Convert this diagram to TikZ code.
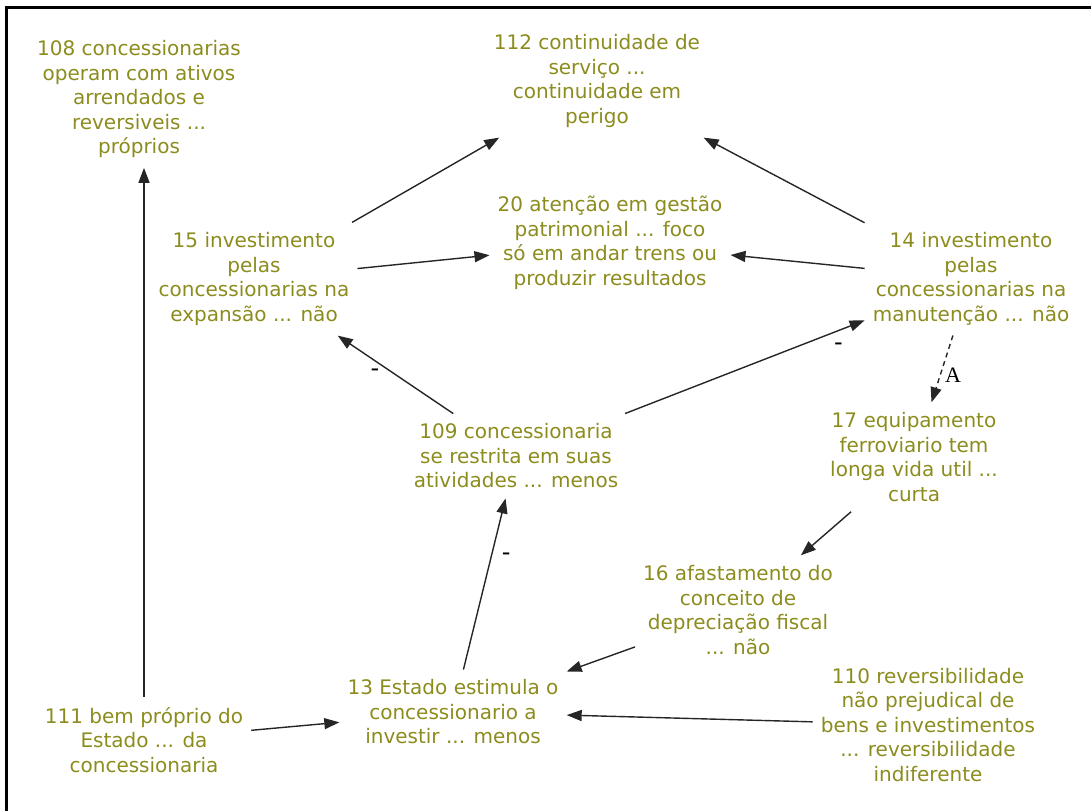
\documentclass[tikz,border=0pt]{standalone}
\usepackage{fontspec}
\setmainfont{DejaVu Sans}
\newfontfamily\markfont{Liberation Serif}
\usetikzlibrary{arrows.meta}
\definecolor{olivetext}{RGB}{140,140,30}
\begin{document}
\begin{tikzpicture}[x=1pt,y=-1pt,
  concept/.style={align=center, text=olivetext,
    font=\fontsize{20}{24.5}\selectfont, inner xsep=8pt, inner ysep=10pt},
  link/.style={draw=black!85, line width=1.4pt,
    -{Triangle[length=15pt,width=11pt]}},
  dashlink/.style={link, dash pattern=on 5pt off 4pt},
  sign/.style={font=\fontsize{24}{24}\selectfont, text=black, inner sep=0pt},
  letter/.style={font=\markfont\fontsize{22}{22}\selectfont, text=black, inner sep=0pt}]
\useasboundingbox (0,0) rectangle (1091,811);
% frame on the left and top
\draw[line width=3pt, line join=miter] (6.5,811) -- (6.5,7.5) -- (1091,7.5);

% concepts
\node[concept] (n108) at (139,99) {108 concessionarias\\operam com ativos\\arrendados e\\reversiveis ...\\próprios};
\node[concept] (n112) at (597,81) {112 continuidade de\\serviço ...\\continuidade em\\perigo};
\node[concept] (n20)  at (610,243) {20 atenção em gestão\\patrimonial ... foco\\só em andar trens ou\\produzir resultados};
\node[concept] (n15)  at (254,279) {15 investimento\\pelas\\concessionarias na\\expansão ... não};
\node[concept] (n14)  at (971,279) {14 investimento\\pelas\\concessionarias na\\manutenção ... não};
\node[concept] (n109) at (516,456) {109 concessionaria\\se restrita em suas\\atividades ... menos};
\node[concept] (n17)  at (914,457) {17 equipamento\\ferroviario tem\\longa vida util ...\\curta};
\node[concept] (n16)  at (738,610) {16 afastamento do\\conceito de\\depreciação fiscal\\... não};
\node[concept] (n13)  at (453,712) {13 Estado estimula o\\concessionario a\\investir ... menos};
\node[concept] (n111) at (144,740) {111 bem próprio do\\Estado ... da\\concessionaria};
\node[concept] (n110) at (928,725) {110 reversibilidade\\não prejudical de\\bens e investimentos\\... reversibilidade\\indiferente};

% links
\draw[link] (n15) -- (n112);
\draw[link] (n15) -- (n20);
\draw[link] (n14) -- (n112);
\draw[link] (n14) -- (n20);
\draw[link] (n109) -- (n15) node[sign, pos=0.66, yshift=-11pt, xshift=-2pt] {-};
\draw[link] (n109) -- (n14) node[sign, pos=0.87, yshift=-14pt, xshift=5pt] {-};
\draw[dashlink] (n14) -- (n17) node[letter, pos=0.6, xshift=13pt] {A};
\draw[link] (n17) -- (n16);
\draw[link] (n16) -- (n13);
\draw[link] (n13) -- (n109) node[sign, pos=0.66, xshift=15pt] {-};
\draw[link] (n111) -- (n13);
\draw[link] (n110) -- (n13);
\draw[link] (n111.north) -- (n111.north |- n108.south);
\end{tikzpicture}
\end{document}
